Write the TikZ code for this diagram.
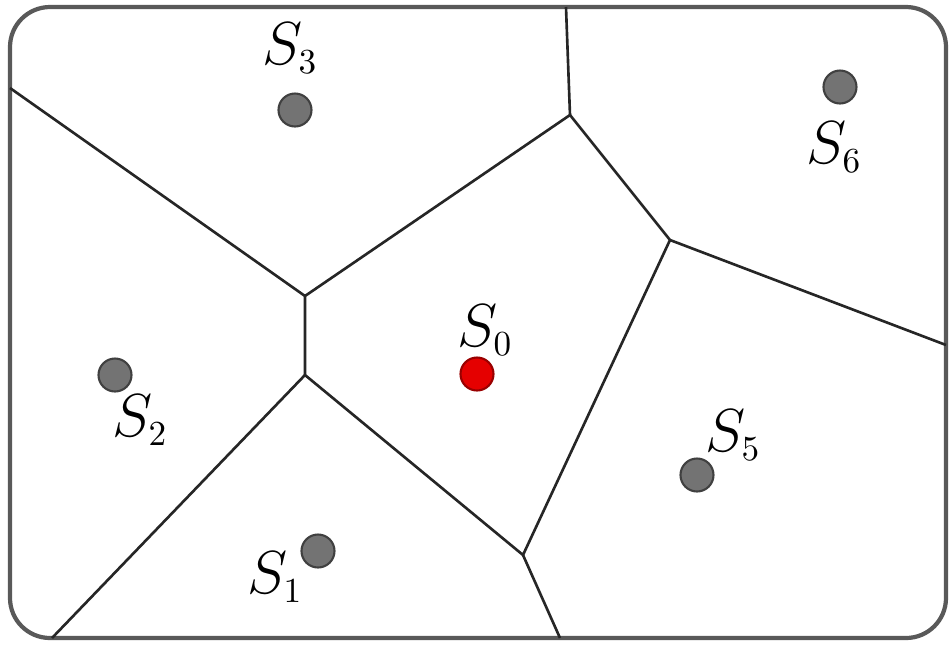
\documentclass[tikz,border=0pt]{standalone}
\usepackage{tikz}
\usetikzlibrary{positioning}

\newcommand{\sitelab}[1]{$S_{\scriptscriptstyle #1}$}

\begin{document}
\begin{tikzpicture}[
x=0.1mm, y=-0.1mm,
site/.style={circle, draw=black!75, fill=black!55, line width=0.6pt, minimum size=3.3mm, inner sep=0pt},
seed/.style={site, draw=red!60!black, fill=red!90!black},
lab/.style={font=\LARGE, inner sep=0pt},
edge/.style={line width=0.75pt, black!85},
frame/.style={draw=black!65, line width=1.2pt, rounded corners=4mm}
]
\useasboundingbox (0,0) rectangle (951,645);
\draw[frame] (10,7) rectangle (946,638);
% Voronoi vertices
\coordinate (vl) at (305,296);
\coordinate (vt) at (570,115);
\coordinate (vr) at (670,240);
\coordinate (vd) at (305,375);
\coordinate (vb) at (523,555);
% ends on the frame
\coordinate (el) at (10,88);
\coordinate (et) at (566,7);
\coordinate (er) at (946,345);
\coordinate (ebl) at (52,638);
\coordinate (ebr) at (560,638);
\draw[edge] (el) -- (vl) -- (vt) -- (vr) -- (vb) -- (vd) -- (vl);
\draw[edge] (vt) -- (et);
\draw[edge] (vr) -- (er);
\draw[edge] (vd) -- (ebl);
\draw[edge] (vb) -- (ebr);
% sites
\node[seed] (s0) at (477,374) {};
\node[site] (s1) at (318,551) {};
\node[site] (s2) at (115,375) {};
\node[site] (s3) at (295,110) {};
\node[site] (s5) at (697,475) {};
\node[site] (s6) at (840,87) {};
\node[lab] (l0) at (485,330) {\sitelab{0}};
\node[lab] (l1) at (275,577) {\sitelab{1}};
\node[lab] (l2) at (140,420) {\sitelab{2}};
\node[lab] (l3) at (290,48) {\sitelab{3}};
\node[lab] (l5) at (733,435) {\sitelab{5}};
\node[lab] (l6) at (834,147) {\sitelab{6}};
\end{tikzpicture}
\end{document}
